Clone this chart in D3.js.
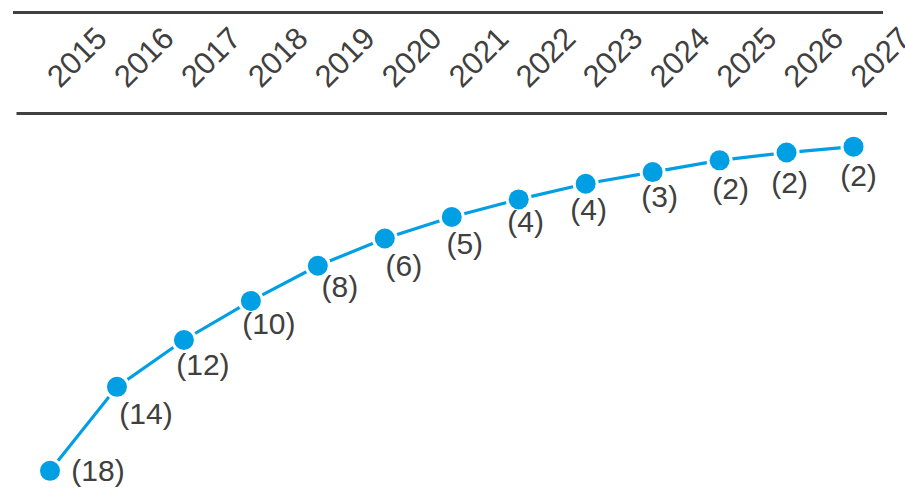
<!DOCTYPE html>
<html>
<head>
<meta charset="utf-8">
<script src="https://cdn.jsdelivr.net/npm/d3@7"></script>
<style>
  html, body { margin: 0; padding: 0; background: #ffffff; }
  svg { display: block; }
  text { font-family: "Liberation Sans", Arial, sans-serif; }
</style>
</head>
<body>
<svg id="chart" width="905" height="488"></svg>
<script>
// Years along the top axis
const years = ["2015", "2016", "2017", "2018", "2019", "2020", "2021",
               "2022", "2023", "2024", "2025", "2026", "2027"];

// Series values (negative; shown in parentheses, rounded)
const values = [-18.3, -14.0, -11.6, -9.6, -7.8, -6.4, -5.3,
                -4.4, -3.6, -3.0, -2.4, -2.0, -1.7];

// Hand-placed nudges for the value labels (centre x offset, baseline y offset)
const labelDx = [48, 29, 19, 18, 22, 19, 13, 7, 3, 7, 11, 3, 5];
const labelDy = [10, 37, 35, 33, 31, 38, 37, 33, 36, 35, 39, 40, 39];

const svg = d3.select("#chart");
const blue = "#009fe3";
const ink = "#404040";

const x = d3.scalePoint().domain(years).range([50, 853.5]);
const y = d3.scaleLinear().domain([0, -20]).range([113.5, 504]);

// Top rule
svg.append("line")
  .attr("x1", 13).attr("x2", 883)
  .attr("y1", 12.5).attr("y2", 12.5)
  .attr("stroke", ink).attr("stroke-width", 3);

// Year axis labels, rotated
const axis = d3.axisTop(x).tickSize(0).tickPadding(0);
const gAxis = svg.append("g").call(axis);
gAxis.select(".domain").remove();
gAxis.selectAll(".tick").attr("transform", d => `translate(${x(d) + 10},89)`);
gAxis.selectAll(".tick text")
  .attr("x", 0).attr("y", 0).attr("dy", 0)
  .attr("text-anchor", "start")
  .attr("transform", "rotate(-45)")
  .attr("fill", ink)
  .style("font-size", "31px")
  .style("font-family", "'Liberation Sans', Arial, sans-serif");

// Zero line
svg.append("line")
  .attr("x1", 16.5).attr("x2", 887)
  .attr("y1", y(0)).attr("y2", y(0))
  .attr("stroke", ink).attr("stroke-width", 3);

const pts = years.map((yr, i) => ({ yr, v: values[i], i }));

// Series line
svg.append("path")
  .datum(pts)
  .attr("fill", "none")
  .attr("stroke", blue)
  .attr("stroke-width", 3.2)
  .attr("d", d3.line().x(d => x(d.yr)).y(d => y(d.v)));

// Markers with a white halo
const m = svg.append("g").selectAll("g").data(pts).join("g")
  .attr("transform", d => `translate(${x(d.yr)},${y(d.v)})`);
m.append("circle").attr("r", 13).attr("fill", "#ffffff");
m.append("circle").attr("r", 10).attr("fill", blue);

// Value labels
svg.append("g").selectAll("text").data(pts).join("text")
  .attr("x", d => x(d.yr) + labelDx[d.i])
  .attr("y", d => y(d.v) + labelDy[d.i])
  .attr("text-anchor", "middle")
  .attr("fill", ink)
  .style("font-size", "30px")
  .text(d => `(${Math.round(Math.abs(d.v))})`);
</script>
</body>
</html>
